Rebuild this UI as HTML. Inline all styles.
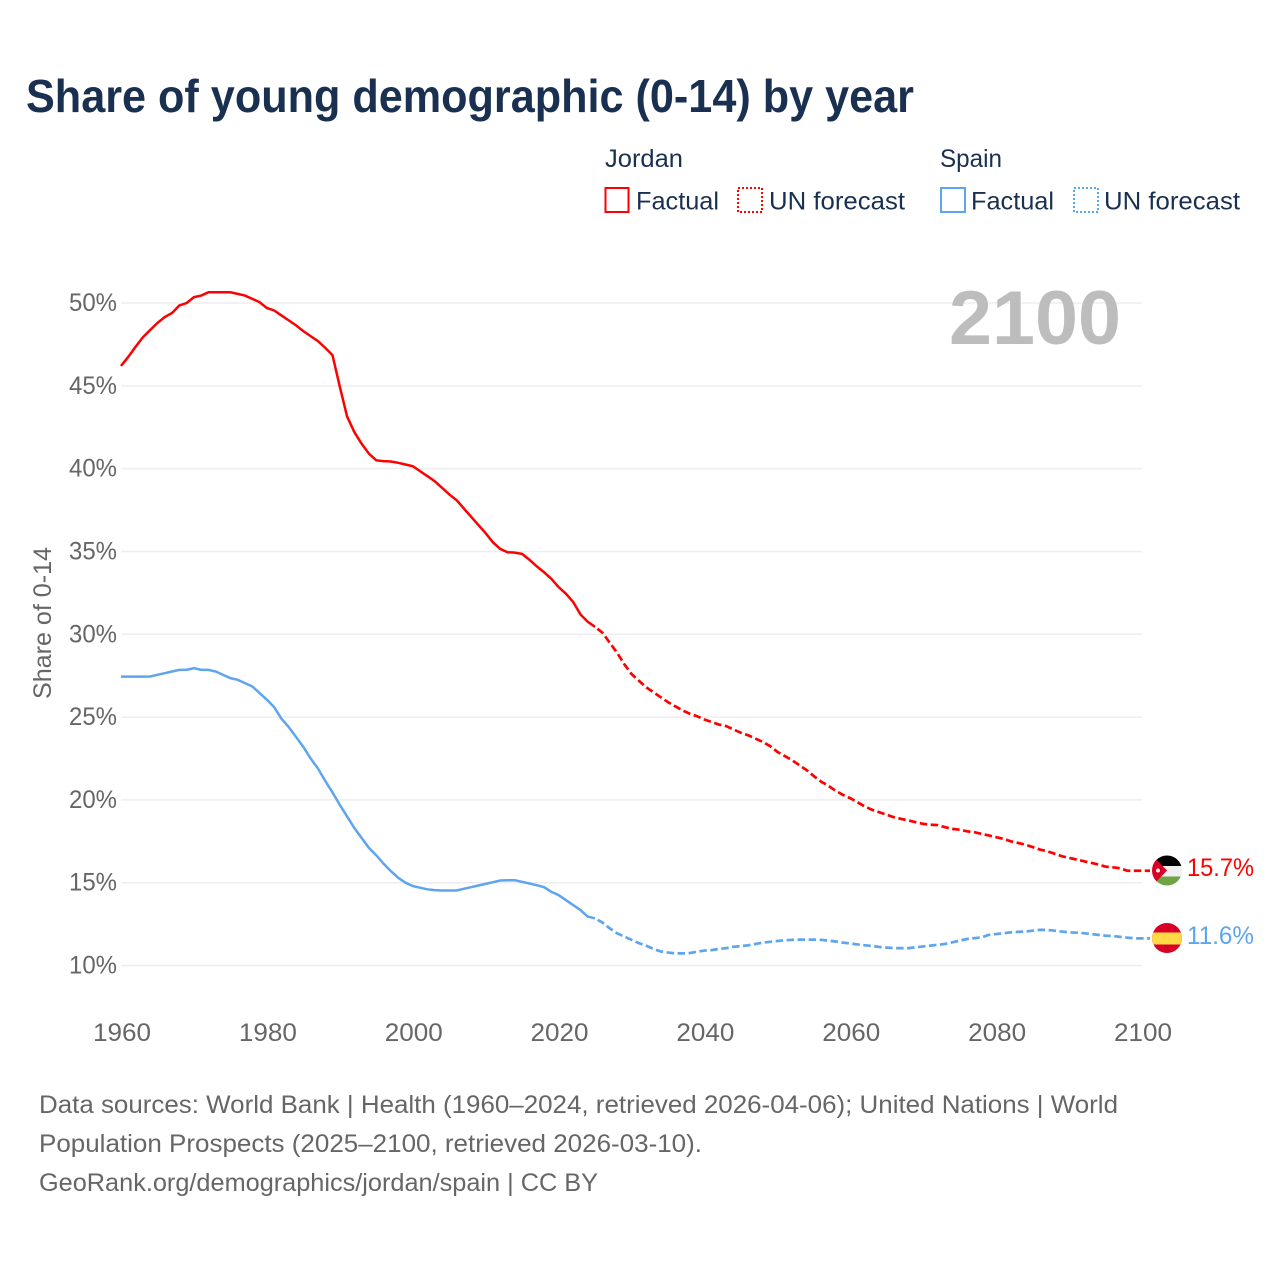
<!DOCTYPE html>
<html lang="en">
<head>
<meta charset="utf-8">
<title>Share of young demographic (0-14) by year</title>
<style>
html,body{margin:0;padding:0;background:#fff;width:1280px;height:1280px;overflow:hidden}
svg{display:block;font-family:"Liberation Sans",sans-serif}
</style>
</head>
<body>
<svg id="chart" width="1280" height="1280" viewBox="0 0 1280 1280" xmlns="http://www.w3.org/2000/svg">
<defs>
<clipPath id="flag-clip-jordan"><circle cx="1167" cy="870.5" r="15"/></clipPath>
<clipPath id="flag-clip-spain"><circle cx="1167" cy="938" r="15"/></clipPath>
</defs>
<text x="26" y="112" font-size="46" font-weight="700" fill="#1a3050" textLength="888" lengthAdjust="spacingAndGlyphs">Share of young demographic (0-14) by year</text>

<g font-size="25" fill="#1a3050">
<text x="605" y="167" textLength="78" lengthAdjust="spacingAndGlyphs">Jordan</text>
<rect x="605.5" y="188" width="23" height="24" fill="none" stroke="#ff0000" stroke-width="2"/>
<text x="636" y="209.5" textLength="83" lengthAdjust="spacingAndGlyphs">Factual</text>
<rect x="738" y="188" width="24" height="24" fill="none" stroke="#ff0000" stroke-width="2" stroke-dasharray="2,2"/>
<text x="769" y="209.5" textLength="136" lengthAdjust="spacingAndGlyphs">UN forecast</text>
<text x="940" y="167" textLength="62" lengthAdjust="spacingAndGlyphs">Spain</text>
<rect x="941" y="188" width="24" height="24" fill="none" stroke="#5da5ee" stroke-width="2"/>
<rect x="1074" y="188" width="24" height="24" fill="none" stroke="#5da5ee" stroke-width="2" stroke-dasharray="2,2"/>
<text x="971" y="209.5" textLength="83" lengthAdjust="spacingAndGlyphs">Factual</text>
<text x="1104" y="209.5" textLength="136" lengthAdjust="spacingAndGlyphs">UN forecast</text>
</g>

<g id="grid"></g>
<g id="yticks" font-size="25" fill="#666666"></g>
<g id="xticks" font-size="25" fill="#666666"></g>
<text transform="translate(51,623) rotate(-90)" text-anchor="middle" font-size="25" fill="#666666" textLength="152" lengthAdjust="spacingAndGlyphs">Share of 0-14</text>
<text x="949" y="344" font-size="76" font-weight="700" fill="#bdbdbd" textLength="172" lengthAdjust="spacingAndGlyphs">2100</text>

<g id="series"></g>

<g clip-path="url(#flag-clip-jordan)">
<rect x="1152" y="855" width="30" height="11" fill="#000000"/>
<rect x="1152" y="866" width="30" height="10.5" fill="#f0f0f0"/>
<rect x="1152" y="876.5" width="30" height="10" fill="#6da544"/>
<polygon points="1152,855 1167,870.5 1152,886" fill="#d80027"/>
<circle cx="1158" cy="870.5" r="2" fill="#f0f0f0"/>
</g>
<g clip-path="url(#flag-clip-spain)">
<rect x="1152" y="923" width="30" height="30" fill="#d80027"/>
<rect x="1152" y="932.5" width="30" height="12" fill="#ffda44"/>
</g>
<text id="label-jordan" x="1187" y="876" font-size="25" fill="#ff0000" textLength="67" lengthAdjust="spacingAndGlyphs"></text>
<text id="label-spain" x="1187" y="944" font-size="25" fill="#5da5ee" textLength="67" lengthAdjust="spacingAndGlyphs"></text>

<g font-size="25" fill="#666666">
<text x="39" y="1113" textLength="1079" lengthAdjust="spacingAndGlyphs">Data sources: World Bank | Health (1960–2024, retrieved 2026-04-06); United Nations | World</text>
<text x="39" y="1152" textLength="663" lengthAdjust="spacingAndGlyphs">Population Prospects (2025–2100, retrieved 2026-03-10).</text>
<text x="39" y="1191" textLength="559" lengthAdjust="spacingAndGlyphs">GeoRank.org/demographics/jordan/spain | CC BY</text>
</g>
</svg>

<script>
const yTicks = [10, 15, 20, 25, 30, 35, 40, 45, 50];
const xTicks = [1960, 1980, 2000, 2020, 2040, 2060, 2080, 2100];
const factualStartYear = 1960;
const forecastStartYear = 2025;
const jordanFactual = [46.2,46.75,47.36,47.93,48.37,48.8,49.15,49.4,49.85,50.0,50.35,50.45,50.65,50.65,50.65,50.65,50.55,50.45,50.25,50.05,49.7,49.55,49.25,48.95,48.65,48.3,48.0,47.7,47.3,46.85,44.95,43.15,42.2,41.5,40.9,40.5,40.45,40.43,40.35,40.25,40.15,39.85,39.55,39.25,38.85,38.45,38.1,37.6,37.1,36.6,36.1,35.55,35.15,34.95,34.93,34.85,34.5,34.1,33.75,33.35,32.85,32.45,31.95,31.2,30.75,30.45];
const jordanForecast = [30.45,30.1,29.5,28.9,28.2,27.6,27.2,26.8,26.5,26.2,25.9,25.65,25.4,25.2,25.05,24.85,24.7,24.55,24.45,24.25,24.05,23.9,23.7,23.5,23.25,22.9,22.65,22.4,22.1,21.8,21.44,21.1,20.85,20.55,20.3,20.1,19.85,19.6,19.4,19.25,19.1,18.95,18.85,18.75,18.65,18.55,18.5,18.48,18.35,18.25,18.2,18.1,18.05,17.95,17.85,17.75,17.65,17.5,17.4,17.3,17.15,17.0,16.9,16.75,16.6,16.5,16.4,16.3,16.2,16.1,15.97,15.93,15.87,15.72,15.72,15.72];
const spainFactual = [27.44,27.44,27.44,27.44,27.45,27.55,27.65,27.75,27.85,27.85,27.95,27.85,27.85,27.75,27.55,27.35,27.25,27.05,26.85,26.45,26.05,25.6,24.9,24.4,23.8,23.2,22.5,21.9,21.15,20.45,19.7,19.0,18.3,17.7,17.1,16.65,16.15,15.7,15.3,15.0,14.8,14.7,14.6,14.55,14.53,14.53,14.53,14.63,14.73,14.83,14.93,15.03,15.13,15.15,15.15,15.05,14.95,14.85,14.73,14.45,14.25,13.95,13.65,13.35,12.95,12.85];
const spainForecast = [12.85,12.6,12.25,11.95,11.75,11.55,11.35,11.2,11.0,10.85,10.78,10.73,10.73,10.75,10.83,10.9,10.93,11.0,11.05,11.13,11.17,11.22,11.3,11.38,11.43,11.48,11.52,11.55,11.56,11.56,11.56,11.55,11.5,11.45,11.38,11.33,11.27,11.22,11.18,11.12,11.08,11.05,11.05,11.05,11.1,11.15,11.2,11.25,11.3,11.4,11.5,11.6,11.65,11.7,11.85,11.9,11.95,12.0,12.03,12.05,12.1,12.15,12.15,12.1,12.05,12.0,11.98,11.95,11.9,11.85,11.8,11.78,11.73,11.68,11.64,11.64];
const endLabelJordan = "15.7%";
const endLabelSpain = "11.6%";

const NS = "http://www.w3.org/2000/svg";
function xScale(year) { return 121 + (year - 1960) * (1142 - 121) / 140; }
function yScale(value) { return 965.5 - (value - 10) * (965.5 - 303) / 40; }
function linePath(values, startYear) {
  return values.map(function (v, i) {
    return (i ? "L" : "M") + xScale(startYear + i).toFixed(2) + " " + yScale(v).toFixed(2);
  }).join(" ");
}
function leaderPath(values) {
  return " L" + (xScale(2100) + 8).toFixed(2) + " " + yScale(values[values.length - 1]).toFixed(2);
}

const gridGroup = document.getElementById("grid");
const yTickGroup = document.getElementById("yticks");
yTicks.forEach(function (t) {
  const line = document.createElementNS(NS, "line");
  
  
  line.setAttribute("x1", xScale(1960));
  line.setAttribute("x2", xScale(2100));
  line.setAttribute("y1", yScale(t));
  line.setAttribute("y2", yScale(t));
  line.setAttribute("stroke", "#eeeeee");
  line.setAttribute("stroke-width", "1.5");
  gridGroup.appendChild(line);

  const label = document.createElementNS(NS, "text");
  
  
  label.setAttribute("x", 117);
  label.setAttribute("y", yScale(t) + 8);
  label.setAttribute("text-anchor", "end");
  label.setAttribute("textLength", "48");
  label.setAttribute("lengthAdjust", "spacingAndGlyphs");
  label.textContent = t + "%";
  yTickGroup.appendChild(label);
});

const xTickGroup = document.getElementById("xticks");
xTicks.forEach(function (t) {
  const label = document.createElementNS(NS, "text");
  
  
  label.setAttribute("x", xScale(t) + 1);
  label.setAttribute("y", 1041);
  label.setAttribute("text-anchor", "middle");
  label.setAttribute("textLength", "58");
  label.setAttribute("lengthAdjust", "spacingAndGlyphs");
  label.textContent = t;
  xTickGroup.appendChild(label);
});

const seriesGroup = document.getElementById("series");

const jordanFactualLine = document.createElementNS(NS, "path");


jordanFactualLine.setAttribute("d", linePath(jordanFactual, factualStartYear));
jordanFactualLine.setAttribute("fill", "none");
jordanFactualLine.setAttribute("stroke", "#ff0000");
jordanFactualLine.setAttribute("stroke-width", "2.5");
seriesGroup.appendChild(jordanFactualLine);

const jordanForecastLine = document.createElementNS(NS, "path");


jordanForecastLine.setAttribute("d", linePath(jordanForecast, forecastStartYear) + leaderPath(jordanForecast));
jordanForecastLine.setAttribute("fill", "none");
jordanForecastLine.setAttribute("stroke", "#ff0000");
jordanForecastLine.setAttribute("stroke-width", "2.7");
jordanForecastLine.setAttribute("stroke-dasharray", "7.5,3.5");
jordanForecastLine.setAttribute("stroke-dashoffset", "8");
seriesGroup.appendChild(jordanForecastLine);

const spainFactualLine = document.createElementNS(NS, "path");


spainFactualLine.setAttribute("d", linePath(spainFactual, factualStartYear));
spainFactualLine.setAttribute("fill", "none");
spainFactualLine.setAttribute("stroke", "#5da5ee");
spainFactualLine.setAttribute("stroke-width", "2.5");
seriesGroup.appendChild(spainFactualLine);

const spainForecastLine = document.createElementNS(NS, "path");


spainForecastLine.setAttribute("d", linePath(spainForecast, forecastStartYear) + leaderPath(spainForecast));
spainForecastLine.setAttribute("fill", "none");
spainForecastLine.setAttribute("stroke", "#5da5ee");
spainForecastLine.setAttribute("stroke-width", "2.7");
spainForecastLine.setAttribute("stroke-dasharray", "7.5,3.5");
spainForecastLine.setAttribute("stroke-dashoffset", "8");
seriesGroup.appendChild(spainForecastLine);

document.getElementById("label-jordan").textContent = endLabelJordan;
document.getElementById("label-spain").textContent = endLabelSpain;
</script>
</body>
</html>
